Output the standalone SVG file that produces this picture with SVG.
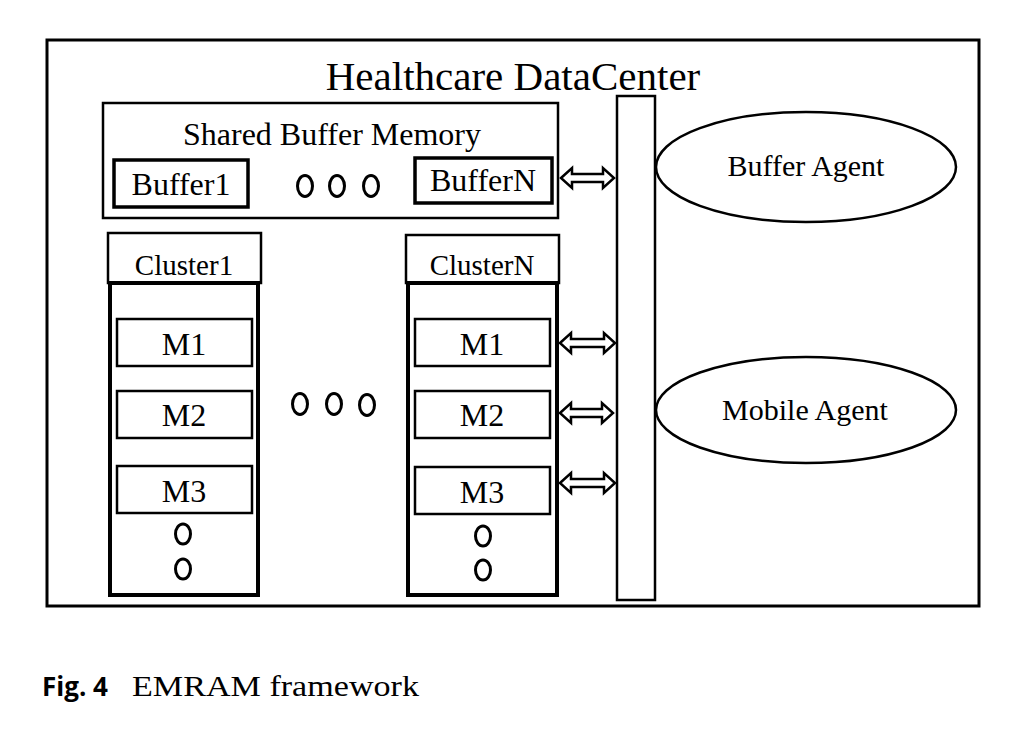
<svg xmlns="http://www.w3.org/2000/svg" width="1011" height="741" viewBox="0 0 1011 741">
<defs>
<style>
.box{fill:#fff;stroke:#000;stroke-width:2.5}
.thick{fill:none;stroke:#000;stroke-width:4}
.t{font-family:"Liberation Serif","Times New Roman",serif;fill:#000;text-anchor:middle}
.dot{fill:none;stroke:#000;stroke-width:3}
.arr{fill:#fff;stroke:#000;stroke-width:2.5;stroke-linejoin:miter}
</style>
</defs>
<rect width="1011" height="741" fill="#fff"/>
<g id="datacenter">
<rect x="47" y="40" width="932" height="566" fill="#fff" stroke="#000" stroke-width="3"/>
<text class="t" x="513" y="90" font-size="41">Healthcare DataCenter</text>
</g>
<g id="bus">
<rect class="box" x="617" y="96" width="38" height="504"/>
</g>
<g id="shared-buffer">
<rect class="box" x="103" y="103" width="455" height="115"/>
<text class="t" x="332" y="145" font-size="32">Shared Buffer Memory</text>
<g id="buffer1">
<rect x="114" y="160" width="134" height="47" fill="#fff" stroke="#000" stroke-width="3.5"/>
<text class="t" x="181" y="195" font-size="32">Buffer1</text>
</g>
<ellipse class="dot" cx="305" cy="186" rx="7.5" ry="10.5"/>
<ellipse class="dot" cx="337" cy="186" rx="7.5" ry="10.5"/>
<ellipse class="dot" cx="371" cy="186" rx="7.5" ry="10.5"/>
<g id="bufferN">
<rect x="415" y="158" width="137" height="45" fill="#fff" stroke="#000" stroke-width="3.5"/>
<text class="t" x="483" y="191" font-size="32">BufferN</text>
</g>
</g>
<g id="cluster1">
<rect class="box" x="108" y="233" width="153" height="50"/>
<text class="t" x="184" y="275" font-size="29">Cluster1</text>
<rect class="thick" x="110" y="283" width="148" height="312"/>
<g id="c1-m1"><rect class="box" x="117" y="319" width="135" height="47"/><text class="t" x="184" y="355" font-size="32">M1</text></g>
<g id="c1-m2"><rect class="box" x="117" y="391" width="135" height="47"/><text class="t" x="184" y="426" font-size="32">M2</text></g>
<g id="c1-m3"><rect class="box" x="117" y="466" width="135" height="47"/><text class="t" x="184" y="502" font-size="32">M3</text></g>
<ellipse class="dot" cx="183" cy="534" rx="7.5" ry="10"/>
<ellipse class="dot" cx="183" cy="569" rx="7.5" ry="10"/>
</g>
<g id="middle-dots">
<ellipse class="dot" cx="300" cy="404" rx="7.5" ry="10.5"/>
<ellipse class="dot" cx="334" cy="404" rx="7.5" ry="10.5"/>
<ellipse class="dot" cx="367" cy="405" rx="7.5" ry="10.5"/>
</g>
<g id="clusterN">
<rect class="box" x="406" y="235" width="153" height="48"/>
<text class="t" x="482" y="275" font-size="29">ClusterN</text>
<rect class="thick" x="408" y="283" width="149" height="312"/>
<g id="cN-m1"><rect class="box" x="415" y="319" width="135" height="47"/><text class="t" x="482" y="355" font-size="32">M1</text></g>
<g id="cN-m2"><rect class="box" x="415" y="391" width="135" height="47"/><text class="t" x="482" y="426" font-size="32">M2</text></g>
<g id="cN-m3"><rect class="box" x="415" y="467" width="135" height="47"/><text class="t" x="482" y="503" font-size="32">M3</text></g>
<ellipse class="dot" cx="483" cy="536" rx="7.5" ry="10"/>
<ellipse class="dot" cx="483" cy="570" rx="7.5" ry="10"/>
</g>
<g id="buffer-agent">
<ellipse cx="806" cy="167" rx="150" ry="55" fill="#fff" stroke="#000" stroke-width="2.5"/>
<text class="t" x="806" y="176" font-size="30">Buffer Agent</text>
</g>
<g id="mobile-agent">
<ellipse cx="806" cy="410" rx="150" ry="53" fill="#fff" stroke="#000" stroke-width="2.5"/>
<text class="t" x="805" y="420" font-size="30">Mobile Agent</text>
</g>
<g id="connectors">
<path class="arr" d="M561,178 L572,168 L572,174 L603,174 L603,168 L614,178 L603,188 L603,182 L572,182 L572,188 Z"/>
<path class="arr" d="M560,343 L571,333 L571,339 L604,339 L604,333 L615,343 L604,353 L604,347 L571,347 L571,353 Z"/>
<path class="arr" d="M560,413 L571,403 L571,409 L602,409 L602,403 L613,413 L602,423 L602,417 L571,417 L571,423 Z"/>
<path class="arr" d="M560,483 L571,473 L571,479 L604,479 L604,473 L615,483 L604,493 L604,487 L571,487 L571,493 Z"/>
</g>
<g id="caption">
<text x="42" y="696" font-family="'Open Sans','Noto Sans',sans-serif" font-weight="bold" font-size="26" textLength="66" lengthAdjust="spacingAndGlyphs" fill="#000">Fig. 4</text>
<text x="132" y="696" font-family="'Liberation Serif',serif" font-size="29" textLength="287" lengthAdjust="spacingAndGlyphs" fill="#000">EMRAM framework</text>
</g>
</svg>
